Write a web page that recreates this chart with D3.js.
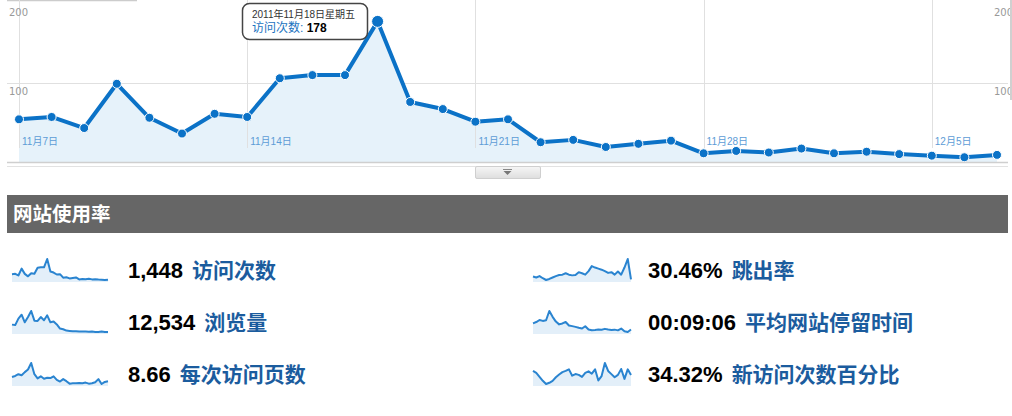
<!DOCTYPE html>
<html><head><meta charset="utf-8">
<script src="https://cdn.jsdelivr.net/npm/d3@7"></script>
<style>
body{margin:0;background:#fff;}
svg{display:block;font-family:"Liberation Sans","Noto Sans CJK SC",sans-serif;}
</style>
</head><body>
<svg id="c" width="1012" height="416"></svg>
<script>
const dates = ["2011-11-07","2011-11-08","2011-11-09","2011-11-10","2011-11-11","2011-11-12","2011-11-13",
  "2011-11-14","2011-11-15","2011-11-16","2011-11-17","2011-11-18","2011-11-19","2011-11-20",
  "2011-11-21","2011-11-22","2011-11-23","2011-11-24","2011-11-25","2011-11-26","2011-11-27",
  "2011-11-28","2011-11-29","2011-11-30","2011-12-01","2011-12-02","2011-12-03","2011-12-04",
  "2011-12-05","2011-12-06","2011-12-07"];
const visits = [54,57,43,99,56,36,61,57,106,110,110,178,76,67,51,54,25,28,19,23,27,11,14,12,17,11,13,10,8,6,9];
const pageviews = [463,437,812,1036,598,905,1252,694,677,903,716,1002,597,641,476,238,196,117,98,79,83,61,58,63,57,59,41,38,62,39,36];
const pagesPerVisit = [11.0,12.05,13.8,12.75,15.9,18.5,25.0,13.8,9.6,11.7,9.25,10.3,9.95,11.7,8.2,6.45,8.9,6.8,4.35,4.7,4.7,5.05,4.7,5.4,4.35,4.7,5.75,8.9,4.0,6.1,6.8];
const bounceRate = [24.0,21.3,24.9,19.5,15.0,17.7,21.3,24.9,27.6,28.5,32.1,28.5,26.7,27.6,34.8,32.1,28.5,37.5,50.1,46.5,43.8,41.1,37.5,33.0,34.8,28.5,36.6,28.5,46.5,68.1,16.8];
const avgTimeSec = [562,638,757,703,741,1276,938,664,503,557,642,437,402,358,303,262,396,204,163,178,201,197,243,202,181,198,157,263,103,62,204];
const newVisitPct = [39.7,35.2,26.2,17.2,10.0,12.7,17.2,25.3,31.6,37.0,39.7,43.3,28.9,32.5,30.7,26.2,35.2,38.8,33.4,43.3,18.1,28.0,57.7,39.7,32.5,25.3,30.7,44.2,21.7,43.3,30.7];

const yTicks = [100, 200];
const xTickDates = ["2011-11-07","2011-11-14","2011-11-21","2011-11-28","2011-12-05"];
const xTickLabels = ["11月7日","11月14日","11月21日","11月28日","12月5日"];
const metricValues = ["1,448","12,534","8.66","30.46%","00:09:06","34.32%"];
const metricLabels = ["访问次数","浏览量","每次访问页数","跳出率","平均网站停留时间","新访问次数百分比"];
const sectionTitle = "网站使用率";
const tooltipDate = "2011年11月18日星期五";
const tooltipLabel = "访问次数";
const highlightIndex = 11;

const parse = d3.timeParse("%Y-%m-%d");
const svg = d3.select("#c");
const data = dates.map((d,i)=>({date:parse(d), v:visits[i]}));

const x = d3.scaleTime().domain(d3.extent(data, d=>d.date)).range([19, 997]);
const y = d3.scaleLinear().domain([0, 200]).range([162, 4]);
const BLUE = "#0b72c7";

// top decorative line and right scrollbar
svg.append("line").attr("x1",7).attr("x2",137).attr("y1",0.5).attr("y2",0.5).attr("stroke","#ccc").attr("stroke-width",1.5);

// horizontal grid
svg.selectAll(".hg").data(yTicks.filter(t=>t<200)).join("line")
  .attr("x1",7).attr("x2",1008).attr("y1",d=>Math.round(y(d))+0.5).attr("y2",d=>Math.round(y(d))+0.5)
  .attr("stroke","#e0e0e0");

// area
svg.append("path").datum(data)
  .attr("d", d3.area().x(d=>x(d.date)).y0(y(0)).y1(d=>y(d.v)))
  .attr("fill","#e6f2fa");

// vertical grid
svg.selectAll(".vg").data(xTickDates).join("line")
  .attr("x1",d=>Math.round(x(parse(d)))+0.5).attr("x2",d=>Math.round(x(parse(d)))+0.5)
  .attr("y1",0).attr("y2",148).attr("stroke","#e0e0e0");

// y labels left & right
[9, 994].forEach(lx=>{
  svg.selectAll(null).data(yTicks).join("text")
    .attr("x",lx).attr("y",d=>y(d)+12)
    .attr("font-family","DejaVu Sans, sans-serif").attr("font-size",10).attr("fill","#999")
    .text(d=>d);
});
svg.append("rect").attr("x",1010).attr("y",0).attr("width",2).attr("height",100).attr("fill","#d0d0d0");

// x labels
svg.selectAll(".xl").data(xTickDates).join("text")
  .attr("x",d=>x(parse(d))+3).attr("y",145)
  .attr("font-size",10).attr("fill","#5d9cd6")
  .text((d,i)=>xTickLabels[i]);

// line
svg.append("path").datum(data)
  .attr("d", d3.line().x(d=>x(d.date)).y(d=>y(d.v)))
  .attr("fill","none").attr("stroke",BLUE).attr("stroke-width",4).attr("stroke-linejoin","round");

// dots
svg.selectAll(".dot").data(data).join("circle")
  .attr("cx",d=>x(d.date)).attr("cy",d=>y(d.v))
  .attr("r",(d,i)=>i===highlightIndex?6:4.5)
  .attr("fill",BLUE).attr("stroke","#fff").attr("stroke-width",1);

// bottom borders
svg.append("line").attr("x1",7).attr("x2",1008).attr("y1",162.5).attr("y2",162.5).attr("stroke","#cfcfcf").attr("stroke-width",1.5);
svg.append("line").attr("x1",7).attr("x2",1008).attr("y1",166.5).attr("y2",166.5).attr("stroke","#e2e2e2");

// toggle button
const grad = svg.append("defs").append("linearGradient").attr("id","bg").attr("x1",0).attr("x2",0).attr("y1",0).attr("y2",1);
grad.append("stop").attr("offset","0").attr("stop-color","#f6f6f6");
grad.append("stop").attr("offset","1").attr("stop-color","#dedede");
svg.append("rect").attr("x",475.5).attr("y",166.5).attr("width",65).attr("height",12).attr("rx",1.5)
  .attr("fill","url(#bg)").attr("stroke","#cfcfcf");
svg.append("rect").attr("x",503).attr("y",169).attr("width",9).attr("height",1).attr("fill","#888");
svg.append("path").attr("d","M503.5,171 L511.5,171 L507.5,175 Z").attr("fill","#777");

// tooltip
const hp = data[highlightIndex];
svg.append("rect").attr("x",242.5).attr("y",3.5).attr("width",125).attr("height",36).attr("rx",7)
  .attr("fill","#fff").attr("stroke","#444").attr("stroke-width",1.5);
svg.append("text").attr("x",252).attr("y",18).attr("font-size",10).attr("fill","#333").text(tooltipDate);
const tt = svg.append("text").attr("x",252).attr("y",32).attr("font-size",12);
tt.append("tspan").attr("fill","#1a73c0").text(tooltipLabel+":");
tt.append("tspan").attr("fill","#000").attr("font-weight","bold").text(" "+hp.v);

// section header
svg.append("rect").attr("x",7).attr("y",195).attr("width",1001).attr("height",38).attr("fill","#666");
svg.append("text").attr("x",13).attr("y",221).attr("font-size",19.5).attr("font-weight","bold")
  .attr("font-family","Noto Sans CJK SC, sans-serif").attr("fill","#fff").text(sectionTitle);

// metrics
const series = [visits, pageviews, pagesPerVisit, bounceRate, avgTimeSec, newVisitPct];
series.forEach((s,i)=>{
  const col = i<3?0:1, row = i%3;
  const sx = d3.scaleLinear().domain([0, s.length-1]).range(col?[533,631]:[12,108]);
  const sy = d3.scaleLinear().domain(d3.extent(s)).range([280+52*row, 259+52*row]);
  const g = svg.append("g");
  g.append("path").datum(s)
    .attr("d", d3.area().x((d,j)=>sx(j)).y0(282+52*row).y1(d=>sy(d)))
    .attr("fill","#e3eff9");
  g.append("path").datum(s)
    .attr("d", d3.line().x((d,j)=>sx(j)).y(d=>sy(d)))
    .attr("fill","none").attr("stroke","#2a84d0").attr("stroke-width",2).attr("stroke-linejoin","round");
  const tx = col?648:128, ty = 278+52*row;
  const vt = g.append("text").attr("x",tx).attr("y",ty).attr("font-size",22).attr("font-weight","bold")
    .attr("fill","#000").text(metricValues[i]);
  const w = vt.node().getComputedTextLength();
  g.append("text").attr("x",tx+w+9).attr("y",ty).attr("font-size",21).attr("font-weight","bold")
    .attr("font-family","Noto Sans CJK SC, sans-serif")
    .attr("fill","#1b5c9e").text(metricLabels[i]);
});
</script>
</body></html>
